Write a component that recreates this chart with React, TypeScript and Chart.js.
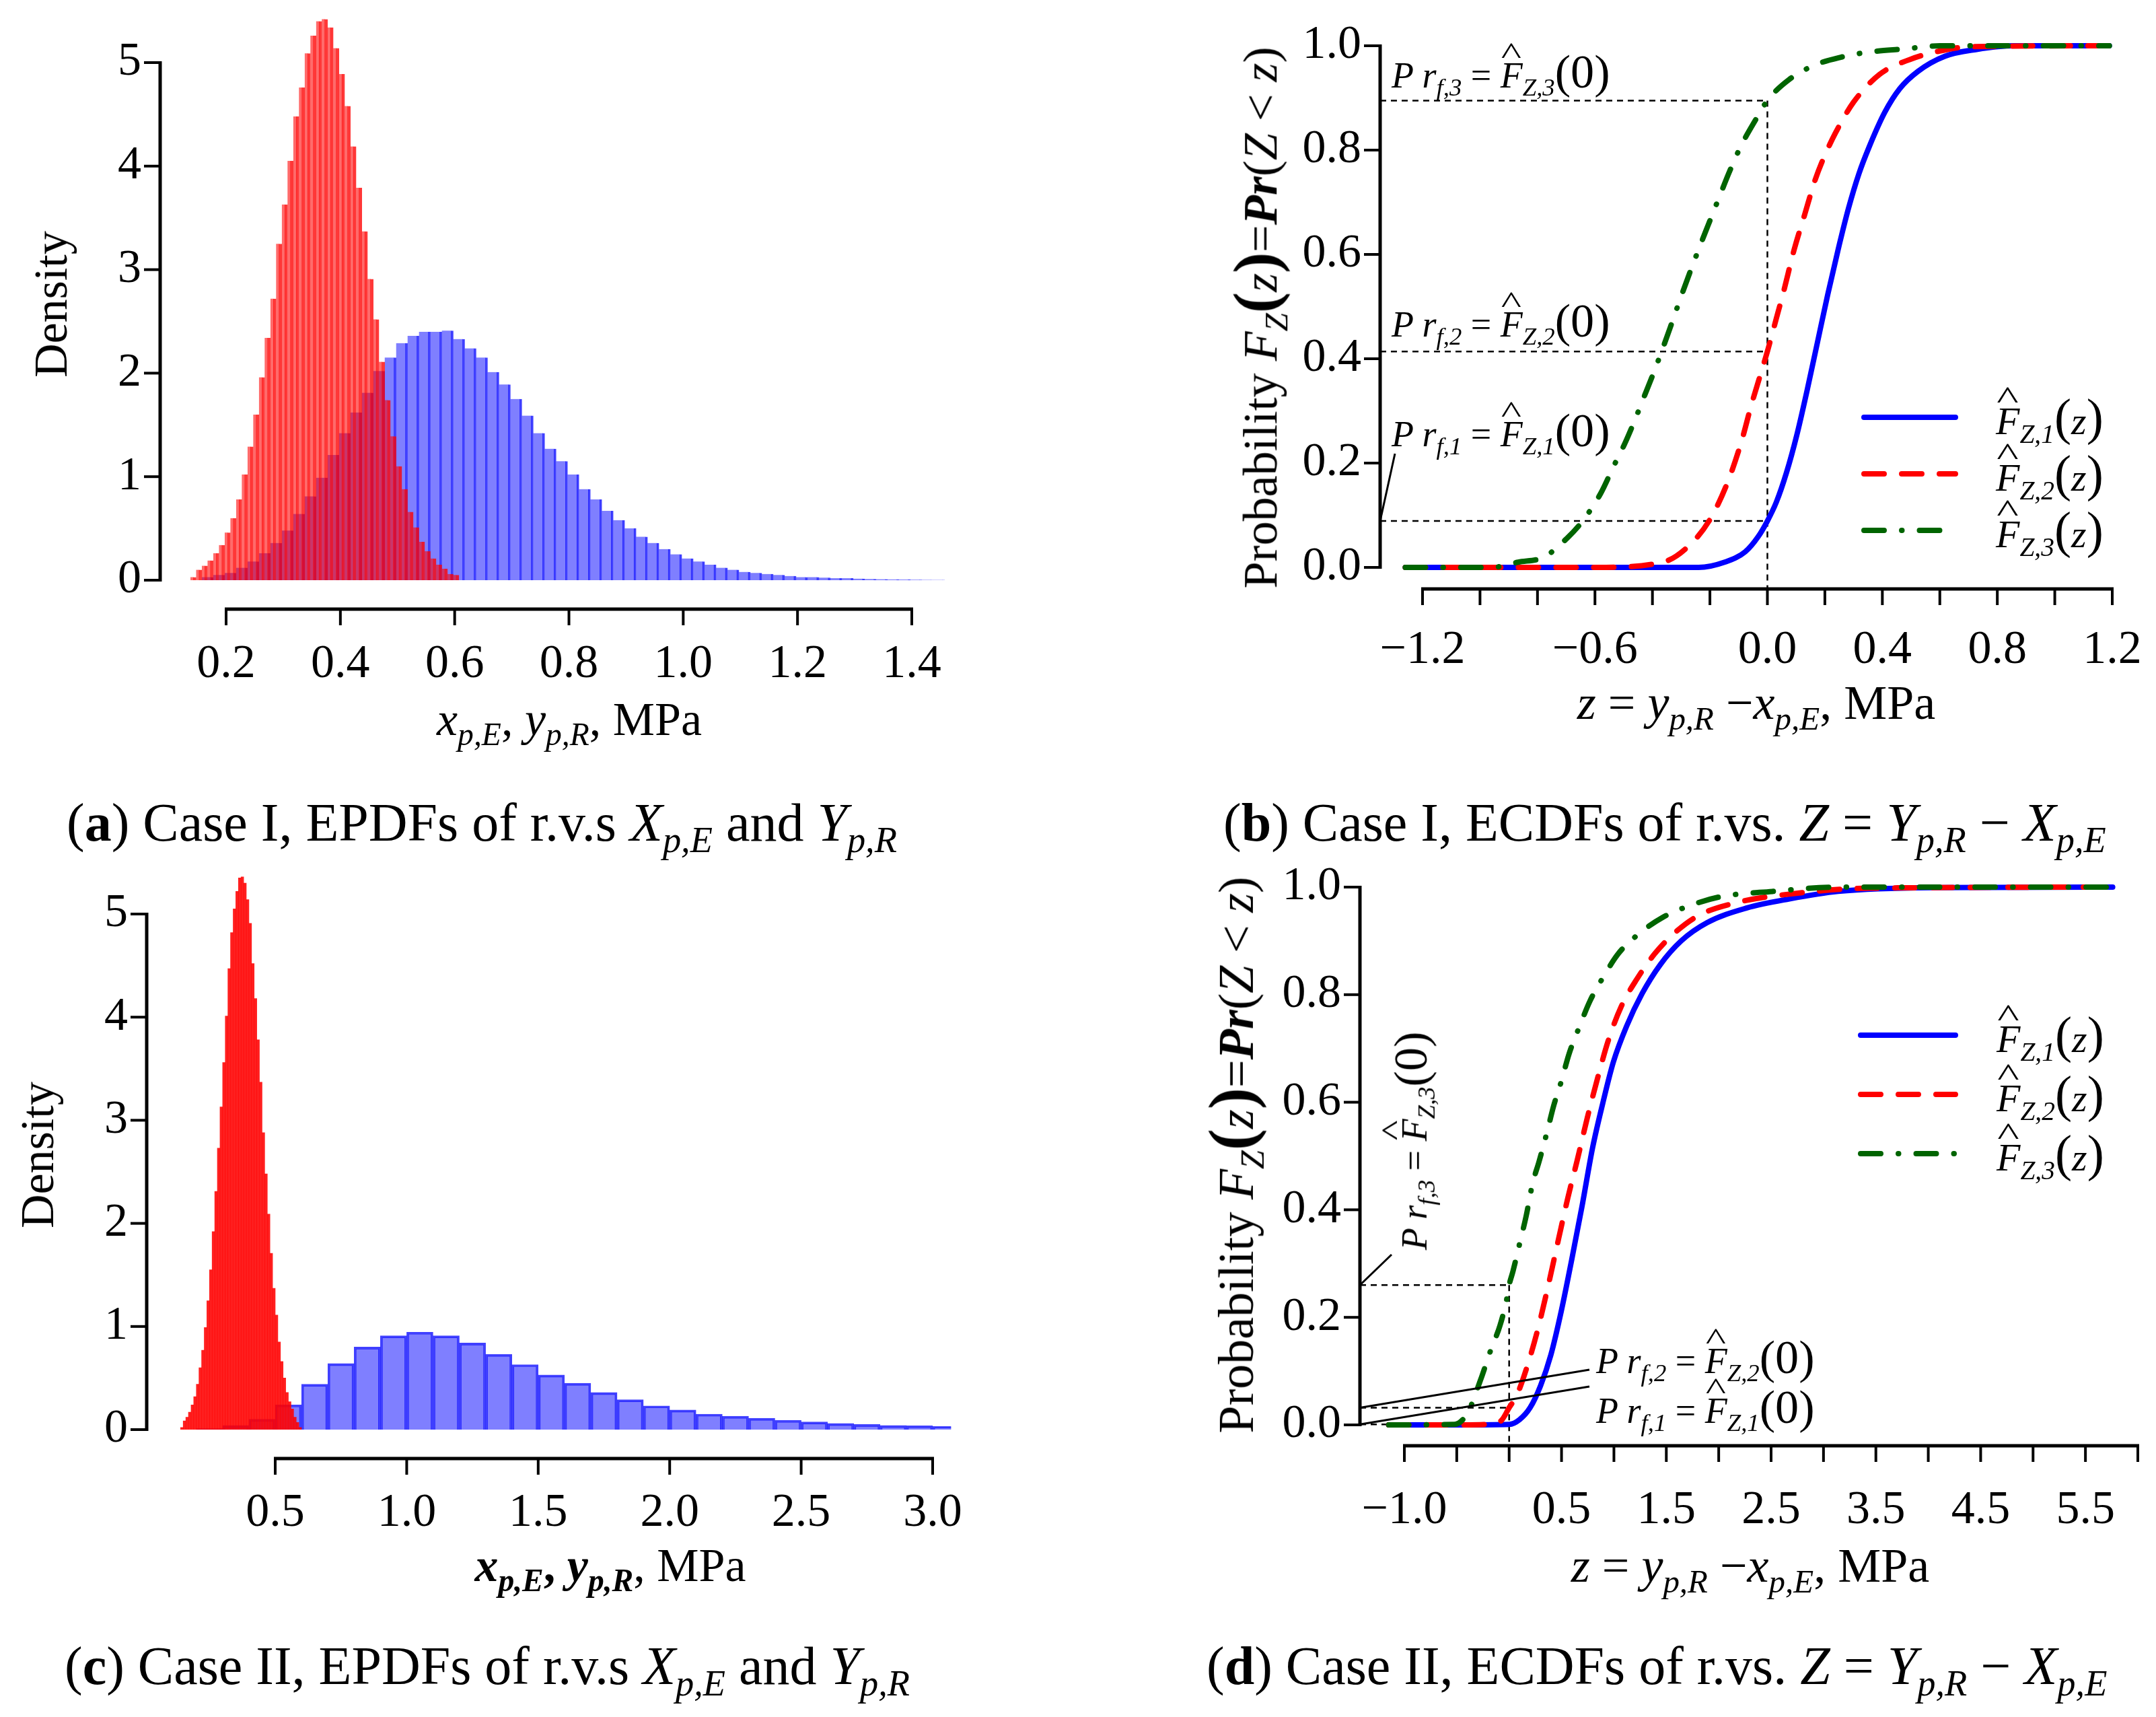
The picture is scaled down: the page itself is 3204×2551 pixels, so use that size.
import { useEffect, useRef } from "react";
import type { ReactNode } from "react";
import { Chart, registerables } from "chart.js";
import type { ChartConfiguration, Plugin } from "chart.js";

Chart.register(...registerables);

const FONT = '"Liberation Serif", "Times New Roman", Times, serif';

// ---------- (a) Case I: EPDFs, bins given by start + width ----------
const aRedStart = 0.1375;
const aRedWidth = 0.01;
const aRedDensity = [
  0.03, 0.1, 0.14, 0.19, 0.26, 0.34, 0.46, 0.6, 0.78, 1.02, 1.29, 1.6, 1.96, 2.34, 2.72, 3.25,
  3.63, 4.05, 4.48, 4.76, 5.09, 5.26, 5.4, 5.42, 5.34, 5.14, 4.89, 4.58, 4.19, 3.79, 3.37, 2.91,
  2.52, 2.11, 1.74, 1.39, 1.1, 0.88, 0.66, 0.51, 0.37, 0.28, 0.21, 0.15, 0.11, 0.06, 0.05,
];
const aBlueStart = 0.1575;
const aBlueWidth = 0.02;
const aBlueDensity = [
  0.03, 0.05, 0.07, 0.12, 0.18, 0.26, 0.36, 0.48, 0.64, 0.81, 0.99, 1.21, 1.42, 1.62, 1.81, 2.02,
  2.15, 2.29, 2.36, 2.4, 2.4, 2.41, 2.33, 2.24, 2.15, 2.01, 1.89, 1.75, 1.59, 1.42, 1.27, 1.15,
  1.02, 0.88, 0.78, 0.67, 0.58, 0.5, 0.42, 0.36, 0.3, 0.25, 0.21, 0.18, 0.15, 0.12, 0.1, 0.08,
  0.07, 0.06, 0.05, 0.04, 0.03, 0.03, 0.025, 0.02, 0.02, 0.015, 0.012, 0.01, 0.008, 0.006, 0.005,
  0.004, 0.003,
];

// ---------- (c) Case II: EPDFs ----------
const cRedStart = 0.14;
const cRedWidth = 0.01;
const cRedDensity = [
  0.02, 0.085, 0.12, 0.17, 0.24, 0.32, 0.44, 0.6, 0.77, 0.99, 1.25, 1.55, 1.92, 2.31, 2.73, 3.13,
  3.56, 4.01, 4.47, 4.82, 5.05, 5.22, 5.35, 5.36, 5.3, 5.14, 4.91, 4.52, 4.18, 3.78, 3.37, 2.88,
  2.48, 2.09, 1.71, 1.37, 1.11, 0.85, 0.66, 0.5, 0.36, 0.27, 0.2, 0.12, 0.07, 0.02,
];
const cBlueStart = 0.2;
const cBlueWidth = 0.1;
const cBlueDensity = [
  0.01, 0.04, 0.1, 0.24, 0.44, 0.64, 0.8, 0.91, 0.945, 0.91, 0.84, 0.73, 0.63, 0.53, 0.45, 0.36,
  0.29, 0.23, 0.19, 0.15, 0.13, 0.11, 0.09, 0.074, 0.06, 0.05, 0.04, 0.037, 0.03,
];

// ---------- (b) Case I: ECDFs ----------
const bZ1 = [-1.26, -0.5, -0.239, -0.149, -0.077, -0.032, 0, 0.031, 0.066, 0.102, 0.138, 0.174, 0.21, 0.246, 0.282, 0.318, 0.354, 0.408, 0.461, 0.524, 0.618, 0.728, 0.86, 1.19];
const bF1 = [0, 0, 0, 0.01, 0.03, 0.059, 0.089, 0.125, 0.181, 0.253, 0.339, 0.431, 0.523, 0.609, 0.688, 0.754, 0.806, 0.872, 0.918, 0.951, 0.98, 0.993, 1, 1];
const bZ2 = [-1.26, -0.6, -0.364, -0.284, -0.203, -0.14, -0.091, -0.055, -0.014, 0, 0.031, 0.057, 0.093, 0.129, 0.165, 0.192, 0.237, 0.3, 0.39, 0.497, 0.6, 0.7, 1.19];
const bF2 = [0, 0, 0.01, 0.036, 0.089, 0.161, 0.24, 0.313, 0.388, 0.414, 0.477, 0.53, 0.609, 0.675, 0.741, 0.78, 0.833, 0.892, 0.945, 0.974, 0.99, 0.998, 1];
const bZ3 = [-1.26, -0.96, -0.867, -0.777, -0.697, -0.643, -0.58, -0.535, -0.499, -0.463, -0.427, -0.391, -0.364, -0.338, -0.303, -0.27, -0.239, -0.207, -0.171, -0.131, -0.09, -0.041, 0, 0.075, 0.165, 0.255, 0.354, 0.479, 0.6, 1.19];
const bF3 = [0, 0, 0.01, 0.02, 0.056, 0.089, 0.142, 0.194, 0.234, 0.28, 0.33, 0.38, 0.42, 0.46, 0.515, 0.565, 0.61, 0.655, 0.705, 0.76, 0.81, 0.858, 0.895, 0.935, 0.963, 0.978, 0.988, 0.994, 1, 1];
const bPf = [0.089, 0.414, 0.895];

// ---------- (d) Case II: ECDFs ----------
const dZ1 = [-1.15, -0.5, 0, 0.1, 0.2, 0.3, 0.398, 0.498, 0.597, 0.697, 0.796, 0.896, 0.995, 1.12, 1.269, 1.443, 1.642, 1.89, 2.264, 2.674, 3.14, 4.04, 5.76];
const dF1 = [0, 0, 0.001, 0.01, 0.032, 0.073, 0.13, 0.212, 0.307, 0.408, 0.515, 0.6, 0.675, 0.741, 0.802, 0.856, 0.9, 0.934, 0.961, 0.978, 0.992, 0.999, 1];
const dZ2 = [-1.15, -0.5, -0.2, -0.075, 0, 0.075, 0.174, 0.274, 0.373, 0.473, 0.56, 0.647, 0.746, 0.846, 0.945, 1.07, 1.219, 1.393, 1.592, 1.816, 2.189, 2.587, 3.44, 5.76];
const dF2 = [0, 0, 0.001, 0.008, 0.032, 0.056, 0.11, 0.178, 0.259, 0.347, 0.422, 0.49, 0.571, 0.646, 0.714, 0.778, 0.829, 0.877, 0.917, 0.948, 0.972, 0.985, 0.998, 1];
const dZ3 = [-1.15, -0.522, -0.398, -0.274, -0.174, -0.087, -0.025, 0, 0.037, 0.1, 0.162, 0.224, 0.286, 0.361, 0.423, 0.498, 0.572, 0.672, 0.771, 0.896, 1.045, 1.244, 1.468, 1.716, 2.015, 2.512, 3.14, 5.76];
const dF3 = [0, 0.001, 0.022, 0.083, 0.14, 0.185, 0.232, 0.26, 0.286, 0.337, 0.388, 0.449, 0.49, 0.544, 0.592, 0.639, 0.69, 0.741, 0.788, 0.832, 0.877, 0.914, 0.944, 0.965, 0.982, 0.992, 1, 1];
const dPf = [0.001, 0.032, 0.26];

// ---------- tick labels ----------
const densityTicks = [0, 1, 2, 3, 4, 5];
const densityTickLabels = ["0", "1", "2", "3", "4", "5"];
const probTicks = [0, 0.2, 0.4, 0.6, 0.8, 1.0];
const probTickLabels = ["0.0", "0.2", "0.4", "0.6", "0.8", "1.0"];
const aXTicks = [0.2, 0.4, 0.6, 0.8, 1.0, 1.2, 1.4];
const aXTickLabels = ["0.2", "0.4", "0.6", "0.8", "1.0", "1.2", "1.4"];
const cXTicks = [0.5, 1.0, 1.5, 2.0, 2.5, 3.0];
const cXTickLabels = ["0.5", "1.0", "1.5", "2.0", "2.5", "3.0"];
const bXTicks = [-1.2, -1.0, -0.8, -0.6, -0.4, -0.2, 0, 0.2, 0.4, 0.6, 0.8, 1.0, 1.2];
const bXLabelValues = [-1.2, -0.6, 0, 0.4, 0.8, 1.2];
const bXTickLabels = ["\u22121.2", "\u22120.6", "0.0", "0.4", "0.8", "1.2"];
const dXTicks = [-1.0, -0.5, 0, 0.5, 1.0, 1.5, 2.0, 2.5, 3.0, 3.5, 4.0, 4.5, 5.0, 5.5, 6.0];
const dXLabelValues = [-1.0, 0.5, 1.5, 2.5, 3.5, 4.5, 5.5];
const dXTickLabels = ["\u22121.0", "0.5", "1.5", "2.5", "3.5", "4.5", "5.5"];

// ---------- layout ----------
interface Frame {
  left: number;
  top: number;
  width: number;
  height: number;
  xMin: number;
  xMax: number;
  yMin: number;
  yMax: number;
  xRef: [number, number, number, number];
  yRef: [number, number, number, number];
}

interface Decor {
  yAxisX: number;
  xAxisY: number;
  xLabelY: number;
  xTicks: number[];
  xLabelValues: number[];
  xLabels: string[];
  yTicks: number[];
  yLabels: string[];
  guides?: { levels: number[]; atX: number; dropTo: number };
  leaders?: { level: number; toX: number; toY: number }[];
  legend?: { x1: number; x2: number; ys: number[] };
}

const frameA: Frame = { left: 0, top: 0, width: 1480, height: 1130, xMin: 0.13, xMax: 1.47, yMin: 0, yMax: 5.5, xRef: [0.2, 336, 1.4, 1355], yRef: [0, 862, 5, 93] };
const frameB: Frame = { left: 1750, top: 0, width: 1454, height: 1130, xMin: -1.3, xMax: 1.22, yMin: -0.03, yMax: 1.03, xRef: [-1.2, 2114, 1.2, 3139], yRef: [0, 843, 1, 68] };
const frameC: Frame = { left: 0, top: 1250, width: 1480, height: 1130, xMin: 0.13, xMax: 3.07, yMin: 0, yMax: 5.5, xRef: [0.5, 409, 3.0, 1386], yRef: [0, 2124, 5, 1358] };
const frameD: Frame = { left: 1750, top: 1250, width: 1454, height: 1130, xMin: -1.22, xMax: 5.8, yMin: -0.03, yMax: 1.03, xRef: [-1.0, 2087, 6.0, 3177], yRef: [0, 2117, 1, 1318] };

function padding(f: Frame) {
  const px = (v: number) => f.xRef[1] + ((v - f.xRef[0]) * (f.xRef[3] - f.xRef[1])) / (f.xRef[2] - f.xRef[0]);
  const py = (v: number) => f.yRef[1] + ((v - f.yRef[0]) * (f.yRef[3] - f.yRef[1])) / (f.yRef[2] - f.yRef[0]);
  return {
    left: px(f.xMin) - f.left,
    right: f.left + f.width - px(f.xMax),
    top: py(f.yMax) - f.top,
    bottom: f.top + f.height - py(f.yMin),
  };
}

const TICK = 24;

function decorPlugin(f: Frame, d: Decor): Plugin {
  const ox = f.left;
  const oy = f.top;
  return {
    id: "decor",
    beforeDatasetsDraw(chart) {
      if (!d.guides) return;
      const { ctx } = chart;
      const xs = chart.scales.x;
      const ys = chart.scales.y;
      const gx = xs.getPixelForValue(d.guides.atX);
      ctx.save();
      ctx.strokeStyle = "#000";
      ctx.lineWidth = 2.5;
      ctx.setLineDash([9, 7]);
      d.guides.levels.forEach((l) => {
        const y = ys.getPixelForValue(l);
        ctx.beginPath();
        ctx.moveTo(d.yAxisX - ox, y);
        ctx.lineTo(gx, y);
        ctx.stroke();
      });
      ctx.beginPath();
      ctx.moveTo(gx, ys.getPixelForValue(Math.max(...d.guides.levels)));
      ctx.lineTo(gx, d.guides.dropTo - oy);
      ctx.stroke();
      ctx.restore();
    },
    afterDraw(chart) {
      const { ctx } = chart;
      const xs = chart.scales.x;
      const ys = chart.scales.y;
      const ax = d.yAxisX - ox;
      const ay = d.xAxisY - oy;
      ctx.save();
      ctx.strokeStyle = "#000";
      ctx.fillStyle = "#000";
      ctx.setLineDash([]);
      // y axis
      ctx.lineWidth = 5;
      ctx.beginPath();
      ctx.moveTo(ax, ys.getPixelForValue(d.yTicks[0]) + 2);
      ctx.lineTo(ax, ys.getPixelForValue(d.yTicks[d.yTicks.length - 1]) - 2);
      ctx.stroke();
      ctx.lineWidth = 4;
      d.yTicks.forEach((t) => {
        const y = ys.getPixelForValue(t);
        ctx.beginPath();
        ctx.moveTo(ax - TICK, y);
        ctx.lineTo(ax, y);
        ctx.stroke();
      });
      ctx.font = `70px ${FONT}`;
      ctx.textAlign = "right";
      ctx.textBaseline = "middle";
      d.yTicks.forEach((t, i) => ctx.fillText(d.yLabels[i], ax - TICK - 4, ys.getPixelForValue(t)));
      // x axis
      ctx.lineWidth = 5;
      ctx.beginPath();
      ctx.moveTo(xs.getPixelForValue(d.xTicks[0]) - 2, ay);
      ctx.lineTo(xs.getPixelForValue(d.xTicks[d.xTicks.length - 1]) + 2, ay);
      ctx.stroke();
      ctx.lineWidth = 4;
      d.xTicks.forEach((t) => {
        const x = xs.getPixelForValue(t);
        ctx.beginPath();
        ctx.moveTo(x, ay);
        ctx.lineTo(x, ay + TICK);
        ctx.stroke();
      });
      ctx.textAlign = "center";
      d.xLabelValues.forEach((v, i) => ctx.fillText(d.xLabels[i], xs.getPixelForValue(v), d.xLabelY - oy));
      // leader lines
      ctx.lineWidth = 3;
      (d.leaders || []).forEach((l) => {
        ctx.beginPath();
        ctx.moveTo(ax, ys.getPixelForValue(l.level));
        ctx.lineTo(l.toX - ox, l.toY - oy);
        ctx.stroke();
      });
      // legend samples
      if (d.legend) {
        const lg = d.legend;
        chart.data.datasets.forEach((ds: any, i) => {
          ctx.strokeStyle = ds.borderColor;
          ctx.lineWidth = ds.borderWidth;
          ctx.lineCap = ds.borderCapStyle || "butt";
          ctx.setLineDash(ds.borderDash || []);
          ctx.beginPath();
          ctx.moveTo(lg.x1 - ox, lg.ys[i] - oy);
          ctx.lineTo(lg.x2 - ox, lg.ys[i] - oy);
          ctx.stroke();
        });
      }
      ctx.restore();
    },
  };
}

interface Hist {
  start: number;
  width: number;
  values: number[];
  bg: string;
  border: string;
  borderWidth: number | { top: number; right: number; bottom: number; left: number };
}

function histConfig(f: Frame, d: Decor, red: Hist, blue: Hist): ChartConfiguration {
  const toPoints = (h: Hist) => h.values.map((v, i) => ({ x: h.start + (i + 0.5) * h.width, y: v }));
  const ds = (h: Hist, axis: string, order: number) => ({
    data: toPoints(h),
    xAxisID: axis,
    backgroundColor: h.bg,
    borderColor: h.border,
    borderWidth: h.borderWidth,
    borderSkipped: "start" as const,
    barPercentage: 1,
    categoryPercentage: 1,
    grouped: false,
    order,
  });
  const lin = { type: "linear" as const, display: false, min: f.xMin, max: f.xMax, offset: false };
  return {
    type: "bar",
    data: { datasets: [ds(red, "x", 1), ds(blue, "x2", 2)] as any },
    options: {
      animation: false,
      responsive: true,
      maintainAspectRatio: false,
      layout: { padding: padding(f) },
      plugins: { legend: { display: false }, tooltip: { enabled: false } },
      scales: {
        x: lin,
        x2: lin,
        y: { type: "linear", display: false, min: f.yMin, max: f.yMax },
      },
    },
    plugins: [decorPlugin(f, d)],
  };
}

const curveStyles = [
  { label: "F1", borderColor: "#0000ff", borderDash: [] as number[], order: 3 },
  { label: "F2", borderColor: "#ff0000", borderDash: [30, 26], order: 2 },
  { label: "F3", borderColor: "#006400", borderDash: [30, 26, 0.5, 26], order: 1 },
];

function cdfConfig(f: Frame, d: Decor, xs: number[][], ys: number[][]): ChartConfiguration {
  return {
    type: "line",
    data: {
      datasets: curveStyles.map((s, k) => ({
        ...s,
        data: xs[k].map((x, i) => ({ x, y: ys[k][i] })),
        borderWidth: 8,
        borderCapStyle: "round",
        pointRadius: 0,
        fill: false,
        cubicInterpolationMode: "monotone",
      })) as any,
    },
    options: {
      animation: false,
      responsive: true,
      maintainAspectRatio: false,
      layout: { padding: padding(f) },
      plugins: { legend: { display: false }, tooltip: { enabled: false } },
      scales: {
        x: { type: "linear", display: false, min: f.xMin, max: f.xMax },
        y: { type: "linear", display: false, min: f.yMin, max: f.yMax },
      },
    },
    plugins: [decorPlugin(f, d)],
  };
}

function ChartBox({ frame, make }: { frame: Frame; make: () => ChartConfiguration }) {
  const ref = useRef<HTMLCanvasElement>(null);
  useEffect(() => {
    if (!ref.current) return;
    const chart = new Chart(ref.current, make());
    return () => chart.destroy();
  }, []);
  return (
    <div style={{ position: "absolute", left: frame.left, top: frame.top, width: frame.width, height: frame.height }}>
      <canvas ref={ref} />
    </div>
  );
}

// ---------- text helpers ----------
function Txt({ x, y, size, rotate, align = "center", children }: { x: number; y: number; size: number; rotate?: boolean; align?: "center" | "left"; children: ReactNode }) {
  const tx = align === "center" ? "-50%" : "0";
  return (
    <div
      style={{
        position: "absolute",
        left: x,
        top: y,
        fontSize: size,
        fontFamily: FONT,
        whiteSpace: "nowrap",
        lineHeight: 1,
        color: "#000",
        transform: `translate(${tx}, -50%)${rotate ? " rotate(-90deg)" : ""}`,
      }}
    >
      {children}
    </div>
  );
}

const Sub = ({ children }: { children: ReactNode }) => (
  <span style={{ fontSize: "0.68em", position: "relative", top: "0.32em" }}>{children}</span>
);

const HatF = () => (
  <span style={{ position: "relative", display: "inline-block" }}>
    <i>F</i>
    <span style={{ position: "absolute", left: "0.12em", top: "-0.62em", fontSize: "0.85em", fontStyle: "normal", transform: "scaleX(1.4)" }}>^</span>
  </span>
);

const Big = ({ children, bold }: { children: ReactNode; bold?: boolean }) => (
  <span style={{ fontSize: "1.3em", fontWeight: bold ? "bold" : "normal" }}>{children}</span>
);

const PrF = ({ k }: { k: string }) => (
  <>
    <i>P r</i>
    <Sub>
      <i>f,{k}</i>
    </Sub>{" "}
    = <HatF />
    <Sub>
      <i>Z,{k}</i>
    </Sub>
    <Big>(0)</Big>
  </>
);

const FZ = ({ k }: { k: string }) => (
  <>
    <HatF />
    <Sub>
      <i>Z,{k}</i>
    </Sub>
    <Big>(</Big>
    <i>z</i>
    <Big>)</Big>
  </>
);

const ProbTitle = () => (
  <>
    Probability <i>F</i>
    <Sub>
      <i>Z</i>
    </Sub>
    <Big bold>(</Big>
    <i>z</i>
    <Big bold>)</Big>=<b>
      <i>Pr</i>
    </b>
    (<i>Z</i> &lt; <i>z</i>)
  </>
);

const ZTitle = () => (
  <>
    <i>z</i> = <i>y</i>
    <Sub>
      <i>p,R</i>
    </Sub>{" "}
    −<i>x</i>
    <Sub>
      <i>p,E</i>
    </Sub>
    , MPa
  </>
);

// ---------- decorations ----------
const decorA: Decor = { yAxisX: 238, xAxisY: 905, xLabelY: 988, xTicks: aXTicks, xLabelValues: aXTicks, xLabels: aXTickLabels, yTicks: densityTicks, yLabels: densityTickLabels };
const decorC: Decor = { yAxisX: 218, xAxisY: 2167, xLabelY: 2249, xTicks: cXTicks, xLabelValues: cXTicks, xLabels: cXTickLabels, yTicks: densityTicks, yLabels: densityTickLabels };
const decorB: Decor = {
  yAxisX: 2051,
  xAxisY: 875,
  xLabelY: 967,
  xTicks: bXTicks,
  xLabelValues: bXLabelValues,
  xLabels: bXTickLabels,
  yTicks: probTicks,
  yLabels: probTickLabels,
  guides: { levels: bPf, atX: 0, dropTo: 899 },
  leaders: [{ level: bPf[0], toX: 2073, toY: 674 }],
  legend: { x1: 2770, x2: 2906, ys: [620, 704, 788] },
};
const decorD: Decor = {
  yAxisX: 2021,
  xAxisY: 2148,
  xLabelY: 2245,
  xTicks: dXTicks,
  xLabelValues: dXLabelValues,
  xLabels: dXTickLabels,
  yTicks: probTicks,
  yLabels: probTickLabels,
  guides: { levels: dPf, atX: 0, dropTo: 2172 },
  leaders: [
    { level: dPf[2], toX: 2068, toY: 1864 },
    { level: dPf[1], toX: 2362, toY: 2035 },
    { level: dPf[0], toX: 2362, toY: 2060 },
  ],
  legend: { x1: 2765, x2: 2906, ys: [1538, 1626, 1714] },
};

export default function App() {
  return (
    <div style={{ position: "absolute", left: 0, top: 0, width: 3204, height: 2551, background: "#fff", overflow: "hidden" }}>
      <ChartBox
        frame={frameA}
        make={() =>
          histConfig(
            frameA,
            decorA,
            { start: aRedStart, width: aRedWidth, values: aRedDensity, bg: "rgba(255,0,0,0.58)", border: "rgba(255,0,0,0.78)", borderWidth: { top: 0, right: 4, bottom: 0, left: 0 } },
            { start: aBlueStart, width: aBlueWidth, values: aBlueDensity, bg: "rgba(0,0,255,0.5)", border: "rgba(0,0,255,0.75)", borderWidth: { top: 0, right: 3, bottom: 0, left: 0 } }
          )
        }
      />
      <ChartBox frame={frameB} make={() => cdfConfig(frameB, decorB, [bZ1, bZ2, bZ3], [bF1, bF2, bF3])} />
      <ChartBox
        frame={frameC}
        make={() =>
          histConfig(
            frameC,
            decorC,
            { start: cRedStart, width: cRedWidth, values: cRedDensity, bg: "rgba(255,0,0,0.88)", border: "rgba(255,0,0,0.88)", borderWidth: 0 },
            { start: cBlueStart, width: cBlueWidth, values: cBlueDensity, bg: "rgba(0,0,255,0.5)", border: "rgba(0,0,255,0.75)", borderWidth: 3 }
          )
        }
      />
      <ChartBox frame={frameD} make={() => cdfConfig(frameD, decorD, [dZ1, dZ2, dZ3], [dF1, dF2, dF3])} />

      {/* (a) */}
      <Txt x={76} y={452} size={70} rotate>
        Density
      </Txt>
      <Txt x={846} y={1069} size={70}>
        <i>x</i>
        <Sub>
          <i>p,E</i>
        </Sub>
        , <i>y</i>
        <Sub>
          <i>p,R</i>
        </Sub>
        , MPa
      </Txt>

      {/* (b) */}
      <Txt x={1866} y={472} size={72} rotate>
        <ProbTitle />
      </Txt>
      <Txt x={2610} y={1044} size={72}>
        <ZTitle />
      </Txt>
      <Txt x={2068} y={106} size={54} align="left">
        <PrF k="3" />
      </Txt>
      <Txt x={2068} y={476} size={54} align="left">
        <PrF k="2" />
      </Txt>
      <Txt x={2068} y={639} size={54} align="left">
        <PrF k="1" />
      </Txt>
      <Txt x={2966} y={620} size={58} align="left">
        <FZ k="1" />
      </Txt>
      <Txt x={2966} y={704} size={58} align="left">
        <FZ k="2" />
      </Txt>
      <Txt x={2966} y={788} size={58} align="left">
        <FZ k="3" />
      </Txt>

      {/* (c) */}
      <Txt x={56} y={1716} size={70} rotate>
        Density
      </Txt>
      <Txt x={907} y={2326} size={70}>
        <b>
          <i>x</i>
          <Sub>
            <i>p,E</i>
          </Sub>
          , <i>y</i>
          <Sub>
            <i>p,R</i>
          </Sub>
        </b>
        , MPa
      </Txt>

      {/* (d) */}
      <Txt x={1830} y={1716} size={74} rotate>
        <ProbTitle />
      </Txt>
      <Txt x={2601} y={2326} size={72}>
        <ZTitle />
      </Txt>
      <Txt x={2096} y={1695} size={54} rotate>
        <PrF k="3" />
      </Txt>
      <Txt x={2372} y={2016} size={54} align="left">
        <PrF k="2" />
      </Txt>
      <Txt x={2372} y={2090} size={54} align="left">
        <PrF k="1" />
      </Txt>
      <Txt x={2967} y={1538} size={58} align="left">
        <FZ k="1" />
      </Txt>
      <Txt x={2967} y={1626} size={58} align="left">
        <FZ k="2" />
      </Txt>
      <Txt x={2967} y={1714} size={58} align="left">
        <FZ k="3" />
      </Txt>

      {/* captions */}
      <Txt x={99} y={1222} size={80} align="left">
        (<b>a</b>) Case I, EPDFs of r.v.s <i>X</i>
        <Sub>
          <i>p,E</i>
        </Sub>{" "}
        and <i>Y</i>
        <Sub>
          <i>p,R</i>
        </Sub>
      </Txt>
      <Txt x={1818} y={1222} size={80} align="left">
        (<b>b</b>) Case I, ECDFs of r.vs. <i>Z</i> = <i>Y</i>
        <Sub>
          <i>p,R</i>
        </Sub>{" "}
        − <i>X</i>
        <Sub>
          <i>p,E</i>
        </Sub>
      </Txt>
      <Txt x={96} y={2475} size={80} align="left">
        (<b>c</b>) Case II, EPDFs of r.v.s <i>X</i>
        <Sub>
          <i>p,E</i>
        </Sub>{" "}
        and <i>Y</i>
        <Sub>
          <i>p,R</i>
        </Sub>
      </Txt>
      <Txt x={1793} y={2475} size={80} align="left">
        (<b>d</b>) Case II, ECDFs of r.vs. <i>Z</i> = <i>Y</i>
        <Sub>
          <i>p,R</i>
        </Sub>{" "}
        − <i>X</i>
        <Sub>
          <i>p,E</i>
        </Sub>
      </Txt>
    </div>
  );
}
